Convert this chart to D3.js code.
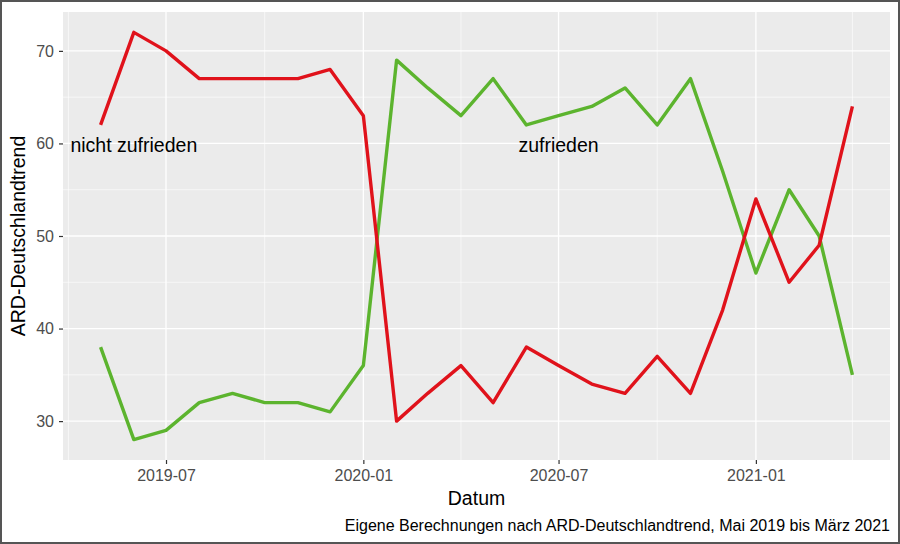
<!DOCTYPE html>
<html>
<head>
<meta charset="utf-8">
<script src="https://cdn.jsdelivr.net/npm/d3@7"></script>
<style>
  body { margin: 0; background: #fff; }
  text { font-family: "Liberation Sans", Arial, sans-serif; }
</style>
</head>
<body>
<div id="chart"></div>
<script>
// monthly values, May 2019 - April 2021
var months = ["2019-05", "2019-06", "2019-07", "2019-08", "2019-09", "2019-10", "2019-11", "2019-12",
  "2020-01", "2020-02", "2020-03", "2020-04", "2020-05", "2020-06", "2020-07", "2020-08",
  "2020-09", "2020-10", "2020-11", "2020-12", "2021-01", "2021-02", "2021-03", "2021-04"];
var nichtZufrieden = [62, 72, 70, 67, 67, 67, 67, 68, 63, 30, 33, 36, 32, 38, 36, 34, 33, 37, 33, 42, 54, 45, 49, 64];
var zufrieden = [38, 28, 29, 32, 33, 32, 32, 31, 36, 69, 66, 63, 67, 62, 63, 64, 66, 62, 67, 57, 46, 55, 50, 35];

var xTicks = ["2019-07", "2020-01", "2020-07", "2021-01"];
var xMinorTicks = ["2019-04", "2019-10", "2020-04", "2020-10", "2021-04"];
var yTicks = [30, 40, 50, 60, 70];
var yMinorTicks = [35, 45, 55, 65];

var labels = [
  { text: "nicht zufrieden", month: "2019-06", value: 60 },
  { text: "zufrieden", month: "2020-07", value: 60 }
];

var svgWidth = 900;
var svgHeight = 544;

var margin = { top: 12, right: 10, bottom: 84, left: 63 };
var width = svgWidth - margin.left - margin.right;
var height = svgHeight - margin.top - margin.bottom;

var parseMonth = d3.timeParse("%Y-%m");
var dates = months.map(parseMonth);

var svg = d3.select("#chart")
  .append("svg")
  .attr("width", svgWidth)
  .attr("height", svgHeight);

// image frame
svg.append("rect")
  .attr("x", 1)
  .attr("y", 1)
  .attr("width", svgWidth - 2)
  .attr("height", svgHeight - 2)
  .attr("fill", "#fff")
  .attr("stroke", "#555")
  .attr("stroke-width", 2);

var chartGroup = svg.append("g")
  .attr("transform", `translate(${margin.left}, ${margin.top})`);

// ggplot style 5% expansion
var xExt = d3.extent(dates);
var xPad = (xExt[1] - xExt[0]) * 0.05;
var xScale = d3.scaleTime()
  .domain([new Date(+xExt[0] - xPad), new Date(+xExt[1] + xPad)])
  .range([0, width]);

var allValues = nichtZufrieden.concat(zufrieden);
var yMin = d3.min(allValues);
var yMax = d3.max(allValues);
var yPad = (yMax - yMin) * 0.05;
var yScale = d3.scaleLinear()
  .domain([yMin - yPad, yMax + yPad])
  .range([height, 0]);

chartGroup.append("rect")
  .attr("width", width)
  .attr("height", height)
  .attr("fill", "#ebebeb");

// grid
chartGroup.selectAll(".yminor")
  .data(yMinorTicks)
  .enter()
  .append("line")
  .attr("x1", 0)
  .attr("x2", width)
  .attr("y1", d => yScale(d))
  .attr("y2", d => yScale(d))
  .attr("stroke", "#fff")
  .attr("stroke-width", 0.6);

chartGroup.selectAll(".xminor")
  .data(xMinorTicks)
  .enter()
  .append("line")
  .attr("x1", d => xScale(parseMonth(d)))
  .attr("x2", d => xScale(parseMonth(d)))
  .attr("y1", 0)
  .attr("y2", height)
  .attr("stroke", "#fff")
  .attr("stroke-width", 0.6);

chartGroup.selectAll(".ymajor")
  .data(yTicks)
  .enter()
  .append("line")
  .attr("x1", 0)
  .attr("x2", width)
  .attr("y1", d => yScale(d))
  .attr("y2", d => yScale(d))
  .attr("stroke", "#fff")
  .attr("stroke-width", 1.3);

chartGroup.selectAll(".xmajor")
  .data(xTicks)
  .enter()
  .append("line")
  .attr("x1", d => xScale(parseMonth(d)))
  .attr("x2", d => xScale(parseMonth(d)))
  .attr("y1", 0)
  .attr("y2", height)
  .attr("stroke", "#fff")
  .attr("stroke-width", 1.3);

// axes
var xAxis = d3.axisBottom(xScale)
  .tickValues(xTicks.map(parseMonth))
  .tickFormat(d3.timeFormat("%Y-%m"))
  .tickSize(4)
  .tickPadding(6);

var yAxis = d3.axisLeft(yScale)
  .tickValues(yTicks)
  .tickSize(4)
  .tickPadding(5);

var xAxisGroup = chartGroup.append("g")
  .attr("transform", `translate(0, ${height})`)
  .call(xAxis);

var yAxisGroup = chartGroup.append("g")
  .call(yAxis);

[xAxisGroup, yAxisGroup].forEach(function(g) {
  g.select(".domain").remove();
  g.selectAll(".tick line").attr("stroke", "#333").attr("stroke-width", 1.2);
  g.selectAll(".tick text")
    .attr("fill", "#4d4d4d")
    .attr("font-size", "16px")
    .attr("font-family", "Liberation Sans, Arial, sans-serif");
});

// lines
var line = d3.line()
  .x((d, i) => xScale(dates[i]))
  .y(d => yScale(d));

chartGroup.append("path")
  .datum(zufrieden)
  .attr("d", line)
  .attr("fill", "none")
  .attr("stroke", "#5cb42e")
  .attr("stroke-width", 3.4)
  .attr("stroke-linejoin", "round");

chartGroup.append("path")
  .datum(nichtZufrieden)
  .attr("d", line)
  .attr("fill", "none")
  .attr("stroke", "#e0121b")
  .attr("stroke-width", 3.4)
  .attr("stroke-linejoin", "round");

chartGroup.selectAll(".label")
  .data(labels)
  .enter()
  .append("text")
  .attr("x", d => xScale(parseMonth(d.month)))
  .attr("y", d => yScale(d.value))
  .attr("dy", "0.45em")
  .attr("text-anchor", "middle")
  .attr("font-size", "19.5px")
  .attr("fill", "#000")
  .text(d => d.text);

// axis titles
svg.append("text")
  .attr("transform", `translate(${25}, ${margin.top + height / 2}) rotate(-90)`)
  .attr("text-anchor", "middle")
  .attr("font-size", "19.5px")
  .attr("fill", "#000")
  .text("ARD-Deutschlandtrend");

svg.append("text")
  .attr("x", margin.left + width / 2)
  .attr("y", 505)
  .attr("text-anchor", "middle")
  .attr("font-size", "19.5px")
  .attr("fill", "#000")
  .text("Datum");

svg.append("text")
  .attr("x", margin.left + width)
  .attr("y", 531)
  .attr("text-anchor", "end")
  .attr("font-size", "16px")
  .attr("fill", "#000")
  .text("Eigene Berechnungen nach ARD-Deutschlandtrend, Mai 2019 bis März 2021");
</script>
</body>
</html>
